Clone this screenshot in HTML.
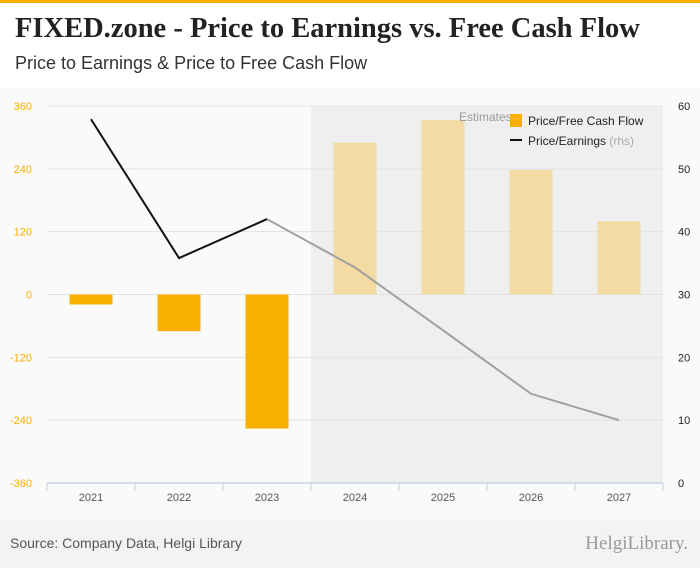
<!DOCTYPE html>
<html><head><meta charset="utf-8"><style>
body{margin:0;width:700px;height:568px;background:#fff;font-family:"Liberation Sans",sans-serif;position:relative;overflow:hidden}
#topbar{position:absolute;left:0;top:0;width:700px;height:3px;background:#f9b000}
#title{position:absolute;left:15px;top:13px;font-family:"Liberation Serif",serif;font-weight:bold;font-size:28.5px;color:#222}
#subtitle{position:absolute;left:15px;top:53px;font-size:18px;color:#333}
#footer{position:absolute;left:0;top:520px;width:700px;height:48px;background:#f3f3f3}
#source{position:absolute;left:10px;top:535px;font-size:14px;color:#555}
#logo{position:absolute;right:12px;top:533px;font-family:"Liberation Serif",serif;font-size:19px;color:#999}
</style></head><body>
<div id="topbar"></div>
<div id="title">FIXED.zone - Price to Earnings vs. Free Cash Flow</div>
<div id="subtitle">Price to Earnings &amp; Price to Free Cash Flow</div>
<svg id="chart" width="700" height="520" style="position:absolute;left:0;top:0"></svg>
<div id="footer"></div>
<div id="source">Source: Company Data, Helgi Library</div>
<div id="logo">HelgiLibrary.</div>
<script>
const years=["2021","2022","2023","2024","2025","2026","2027"];
const pfcf=[-19,-70,-256,290,333,238,140];
const pe=[57.9,35.8,42,34.3,24.3,14.2,10];
const leftTicks=[-360,-240,-120,0,120,240,360];
const rightTicks=[0,10,20,30,40,50,60];
const estimateStart=3;
const NS="http://www.w3.org/2000/svg";
const svg=document.getElementById('chart');
const L=47,R=663,T=106,B=483;
const cw=(R-L)/years.length;
const yL=v=>T+(360-v)/720*(B-T);
const yR=v=>T+(60-v)/60*(B-T);
const xC=i=>L+cw*(i+0.5);
function mk(tag,a){const e=document.createElementNS(NS,tag);for(const k in a)e.setAttribute(k,a[k]);svg.appendChild(e);return e;}
let e;
e=mk('rect',{x:0,y:88,width:700,height:432,fill:'#fafafa'});


e=mk('rect',{x:L+cw*estimateStart,y:T,width:R-L-cw*estimateStart,height:B-T,fill:'#efefef'});


leftTicks.forEach((t,i)=>{
 e=mk('line',{x1:L,x2:R,y1:yL(t),y2:yL(t),stroke:'#e2e2e2','stroke-width':1});
 
 
 e=mk('text',{x:32,y:yL(t)+4,'text-anchor':'end','font-size':11,fill:'#f9b000'});e.textContent=t;
 
 
});
rightTicks.forEach(t=>{
 e=mk('text',{x:678,y:yR(t)+4,'font-size':11,fill:'#222'});e.textContent=t;
 
 
});
e=mk('line',{x1:L,x2:R,y1:B,y2:B,stroke:'#c5d3e8','stroke-width':1.5});


for(let i=0;i<=years.length;i++){e=mk('line',{x1:L+cw*i,x2:L+cw*i,y1:B,y2:B+8,stroke:'#c5d3e8'});
 
 }
years.forEach((y,i)=>{
 e=mk('text',{x:xC(i),y:501,'text-anchor':'middle','font-size':11,fill:'#555'});e.textContent=y;
 
 
 const v=pfcf[i];const y0=yL(0),y1=yL(v);
 e=mk('rect',{x:xC(i)-21.5,y:Math.min(y0,y1),width:43,height:Math.abs(y1-y0),fill:i>=estimateStart?'#f3dba3':'#f9b000'});
 
 
});
let p1='',p2='';
pe.forEach((v,i)=>{if(i<=2)p1+=(i?'L':'M')+xC(i)+','+yR(v);if(i>=2)p2+=(i>2?'L':'M')+xC(i)+','+yR(v);});
e=mk('path',{d:p2,fill:'none',stroke:'#a0a0a0','stroke-width':2});


e=mk('path',{d:p1,fill:'none',stroke:'#111','stroke-width':2});


e=mk('text',{x:459,y:121,'font-size':12,fill:'#999'});e.textContent='Estimates';


e=mk('rect',{x:510,y:114,width:12,height:13,fill:'#f9b000'});


e=mk('text',{x:528,y:125,'font-size':12,fill:'#222'});e.textContent='Price/Free Cash Flow';


e=mk('line',{x1:510,x2:522,y1:140,y2:140,stroke:'#111','stroke-width':2});


e=mk('text',{x:528,y:145,'font-size':12,fill:'#222'});e.innerHTML='Price/Earnings <tspan fill="#aaa">(rhs)</tspan>';


</script>
</body></html>
